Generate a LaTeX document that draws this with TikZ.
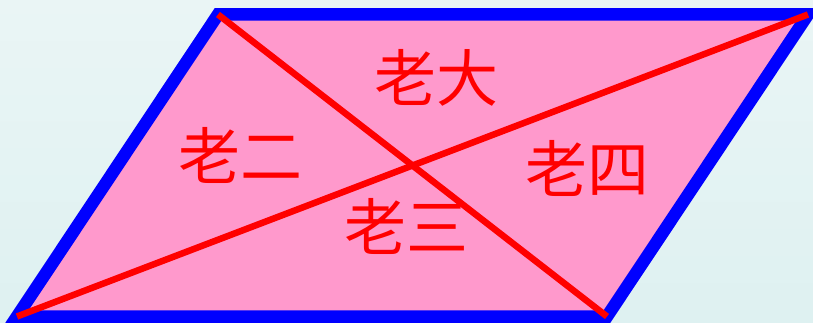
\documentclass[tikz,border=0pt]{standalone}
\usepackage{fontspec}
\newfontfamily\cjk{Noto Sans CJK SC}
\begin{document}
\begin{tikzpicture} [x=1pt, y=-1pt, side/.style={draw=blue, line width=12.5pt, fill={rgb,255:red,255;green,153;blue,204}, line join=miter}, diag/.style={draw=red, line width=6.5pt}, lbl/.style={text=red, font=\cjk\fontsize{62}{66}\selectfont, inner sep=0pt}]

\fill [top color={rgb,255:red,234;green,245;blue,245}, bottom color={rgb,255:red,222;green,241;blue,241}] (0,0) rectangle (813,323);
\useasboundingbox (0,0) rectangle (813,323);
\clip (0,0) rectangle (813,323);

\coordinate (tl) at (218,14.5);
\coordinate (tr) at (808,14.5);
\coordinate (br) at (607,316.5);
\coordinate (bl) at (17,316.5);

\path [side] (tl) -- (tr) -- (br) -- (bl) -- cycle;

\draw [diag] (tl) -- (br);
\draw [diag] (bl) -- (tr);

\node at (436,78) [lbl] (da) {老大};
\node at (240,155) [lbl] (er) {老二};
\node at (406,226) [lbl] (san) {老三};
\node at (587,168) [lbl] (si) {老四};

\end{tikzpicture}
\end{document}
